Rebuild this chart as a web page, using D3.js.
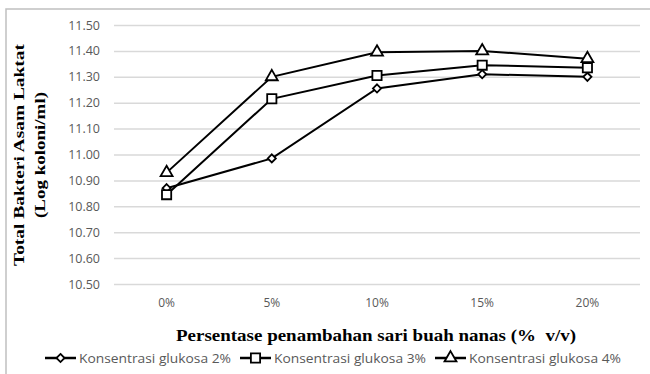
<!DOCTYPE html>
<html><head><meta charset="utf-8">
<script src="https://cdn.jsdelivr.net/npm/d3@7/dist/d3.min.js"></script>
<style>body{margin:0;background:#fff}svg{display:block}</style>
</head><body><svg id="c" width="650" height="374"></svg>
<script>
const categories = ["0%","5%","10%","15%","20%"];
const yTicks = [10.5,10.6,10.7,10.8,10.9,11.0,11.1,11.2,11.3,11.4,11.5];
const glukosa2 = [10.87,10.985,11.255,11.31,11.30];
const glukosa3 = [10.845,11.215,11.305,11.345,11.335];
const glukosa4 = [10.93,11.30,11.395,11.40,11.37];
const seriesNames = ["Konsentrasi glukosa 2%","Konsentrasi glukosa 3%","Konsentrasi glukosa 4%"];
const seriesShapes = ["diamond","square","triangle"];
const seriesData = [glukosa2, glukosa3, glukosa4];

(function(){
const svg = d3.select("#c");
svg.append("path").attr("d","M650,9 H6 V374").attr("fill","none").attr("stroke","#c0c0c0").attr("stroke-width",1.5);

const pL=114, pR=640, pT=25, pB=284;
const x = d3.scaleBand().domain(categories).range([pL,pR]);
const y = d3.scaleLinear().domain([10.5,11.5]).range([pB,pT]);

const yAxis = svg.append("g").attr("transform",`translate(${pL},0)`)
  .call(d3.axisLeft(y).tickValues(yTicks).tickFormat(d3.format(".2f")).tickSize(-(pR-pL)).tickPadding(14));
yAxis.select(".domain").remove();
yAxis.selectAll(".tick line").attr("stroke","#d9d9d9").attr("stroke-width",1.5);
yAxis.selectAll(".tick text").attr("fill","#595959").style("font-family","'Open Sans'").style("font-size","12.5px");

const xAxis = svg.append("g").attr("transform",`translate(0,${pB})`)
  .call(d3.axisBottom(x).tickSize(0).tickPadding(14));
xAxis.select(".domain").remove();
xAxis.selectAll(".tick text").attr("fill","#595959").style("font-family","'Open Sans'").style("font-size","12px");

const diamondType = d3.symbolDiamond2 || d3.symbolDiamond;
function sym(shape){
  if(shape==="diamond") return d3.symbol(diamondType,42)();
  if(shape==="square") return d3.symbol(d3.symbolSquare,85)();
  return d3.symbol(d3.symbolTriangle,62)();
}
const line = d3.line().x((d,i)=>x(categories[i])+x.bandwidth()/2).y(d=>y(d));
seriesData.forEach((s)=>{
  svg.append("path").datum(s).attr("d",line).attr("fill","none").attr("stroke","#000").attr("stroke-width",2);
});
seriesData.forEach((s,k)=>{
  svg.append("g").selectAll("path").data(s).join("path")
    .attr("d",sym(seriesShapes[k]))
    .attr("transform",(d,i)=>`translate(${x(categories[i])+x.bandwidth()/2},${y(d)})`)
    .attr("fill","#fff").attr("stroke","#000").attr("stroke-width",1.8);
});

const yt = svg.append("text").attr("transform","translate(0,155) rotate(-90)")
  .attr("text-anchor","middle").style("font-family","'Liberation Serif'").style("font-weight","bold").style("font-size","15px").attr("fill","#000");
yt.append("tspan").attr("x",0).attr("y",24).attr("textLength",222).attr("lengthAdjust","spacingAndGlyphs").text("Total Bakteri Asam Laktat");
yt.append("tspan").attr("x",0).attr("y",45).attr("textLength",126).attr("lengthAdjust","spacingAndGlyphs").text("(Log koloni/ml)");

svg.append("text").attr("x",376).attr("y",341).attr("text-anchor","middle").attr("xml:space","preserve")
  .attr("textLength",400).attr("lengthAdjust","spacingAndGlyphs")
  .style("font-family","'Liberation Serif'").style("font-weight","bold").style("font-size","16.5px").text("Persentase penambahan sari buah nanas (%  v/v)");

const legX = [45, 240, 435];
seriesNames.forEach((n,k)=>{
  const g = svg.append("g").attr("transform",`translate(${legX[k]},358)`);
  g.append("line").attr("x1",0).attr("x2",31).attr("stroke","#000").attr("stroke-width",2.5);
  g.append("path").attr("d",sym(seriesShapes[k])).attr("transform","translate(15.5,0)").attr("fill","#fff").attr("stroke","#000").attr("stroke-width",1.8);
  g.append("text").attr("x",34).attr("y",4.5).attr("fill","#595959").attr("textLength",152).attr("lengthAdjust","spacingAndGlyphs")
    .style("font-family","'Open Sans'").style("font-size","12px").text(n);
});
})();
</script></body></html>
